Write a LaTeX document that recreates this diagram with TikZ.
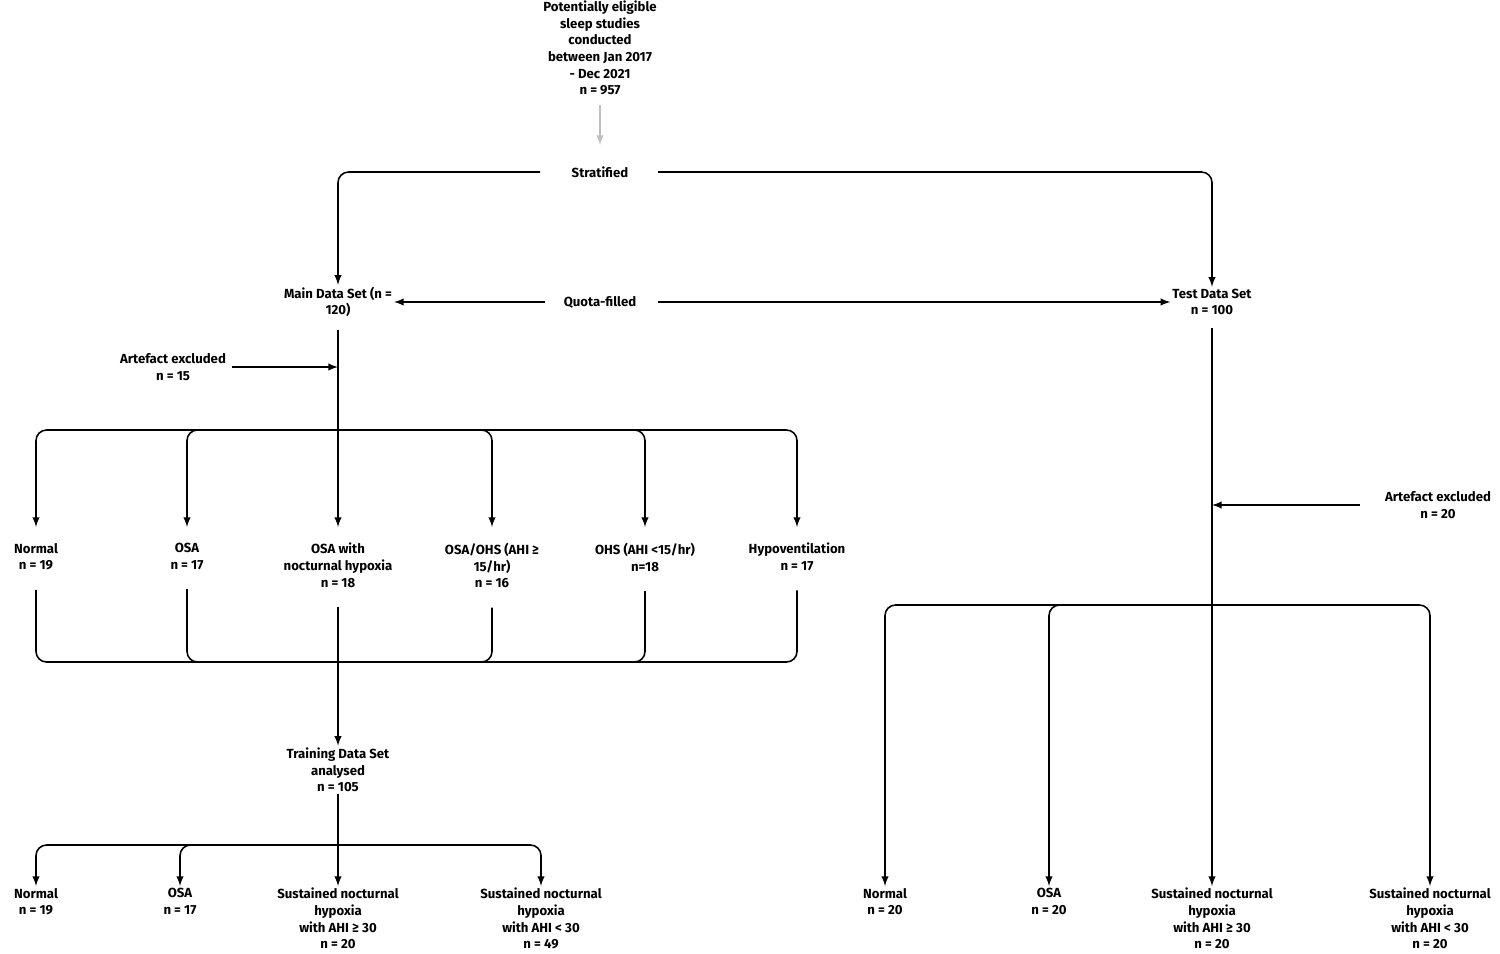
\documentclass[tikz,border=0pt]{standalone}
\usepackage{fontspec}
\setmainfont{Fira Sans}
\usetikzlibrary{calc}
\usetikzlibrary{positioning}
\tikzstyle{lbl}=[align=center,font=\fontsize{7.5}{9.5}\selectfont\bfseries,inner sep=1pt]
\tikzstyle{conn}=[line width=0.9pt,rounded corners=6pt]
\tikzstyle{arr}=[conn,-latex]
\begin{document}
\begin{tikzpicture}[x=0.02cm,y=-0.02cm]
\useasboundingbox (0,0) rectangle (1500,953);
% top of the chart
\node[lbl] (pool) at (600,48) {Potentially eligible\\sleep studies\\conducted\\between Jan 2017\\- Dec 2021\\n = 957};
\node[lbl] (strat) at (600,172) {Stratified};
\draw[-latex,gray!50,line width=0.9pt] (600,105) -- (600,145);
\node[lbl] (main) at (338,302) {Main Data Set (n =\\120)};
\node[lbl] (quota) at (600,302) {Quota-filled};
\node[lbl] (test) at (1212,302) {Test Data Set\\n = 100};
\draw[arr] (540,172) -| (main.north);
\draw[arr] (658,172) -| (test.north);
\draw[arr] (545,302) -- (main.east);
\draw[arr] (658,302) -- (test.west);
% main data set branches
\node[lbl] (artA) at (173,367) {Artefact excluded\\n = 15};
\coordinate (splitA) at (338,430);
\draw[conn] (338,330) -- (splitA);
\draw[arr] (232,367) -- (338,367);
\foreach \x/\name/\txt in {36/norm/{Normal\\n = 19}, 187/osa/{OSA\\n = 17}, 338/hyp/{OSA with\\nocturnal hypoxia\\n = 18}, 492/ohsA/{OSA/OHS (AHI ≥\\15/hr)\\n = 16}, 645/ohsB/{OHS (AHI <15/hr)\\n=18}, 797/hvent/{Hypoventilation\\n = 17}} {
  \node[lbl,anchor=north] (\name) at (\x,541) {\txt};
  \draw[arr] (splitA) -| (\x,527);
}
\coordinate (joinA) at (338,662);
\foreach \name in {norm,osa,hyp,ohsA,ohsB,hvent}
  \draw[conn] ([yshift=-10pt]\name.south) |- (joinA);
\node[lbl] (train) at (338,770) {Training Data Set\\analysed\\n = 105};
\draw[arr] (joinA) -- (train.north);
\coordinate (splitT) at (338,845);
\draw[conn] (train.south) -- (splitT);
\foreach \x/\name/\txt in {36/tnorm/{Normal\\n = 19}, 180/tosa/{OSA\\n = 17}, 338/tlo/{Sustained nocturnal\\hypoxia\\with AHI ≥ 30\\n = 20}, 541/thi/{Sustained nocturnal\\hypoxia\\with AHI < 30\\n = 49}} {
  \node[lbl,anchor=north] (\name) at (\x,886) {\txt};
  \draw[arr] (splitT) -| (\name.north);
}
% test data set branches
\node[lbl] (artB) at (1438,505) {Artefact excluded\\n = 20};
\coordinate (splitB) at (1212,605);
\draw[conn] ([yshift=-6pt]test.south) -- (splitB);
\draw[arr] (1360,505) -- (1212,505);
\foreach \x/\name/\txt in {885/snorm/{Normal\\n = 20}, 1049/sosa/{OSA\\n = 20}, 1212/slo/{Sustained nocturnal\\hypoxia\\with AHI ≥ 30\\n = 20}, 1430/shi/{Sustained nocturnal\\hypoxia\\with AHI < 30\\n = 20}} {
  \node[lbl,anchor=north] (\name) at (\x,886) {\txt};
  \draw[arr] (splitB) -| (\name.north);
}
\end{tikzpicture}
\end{document}
